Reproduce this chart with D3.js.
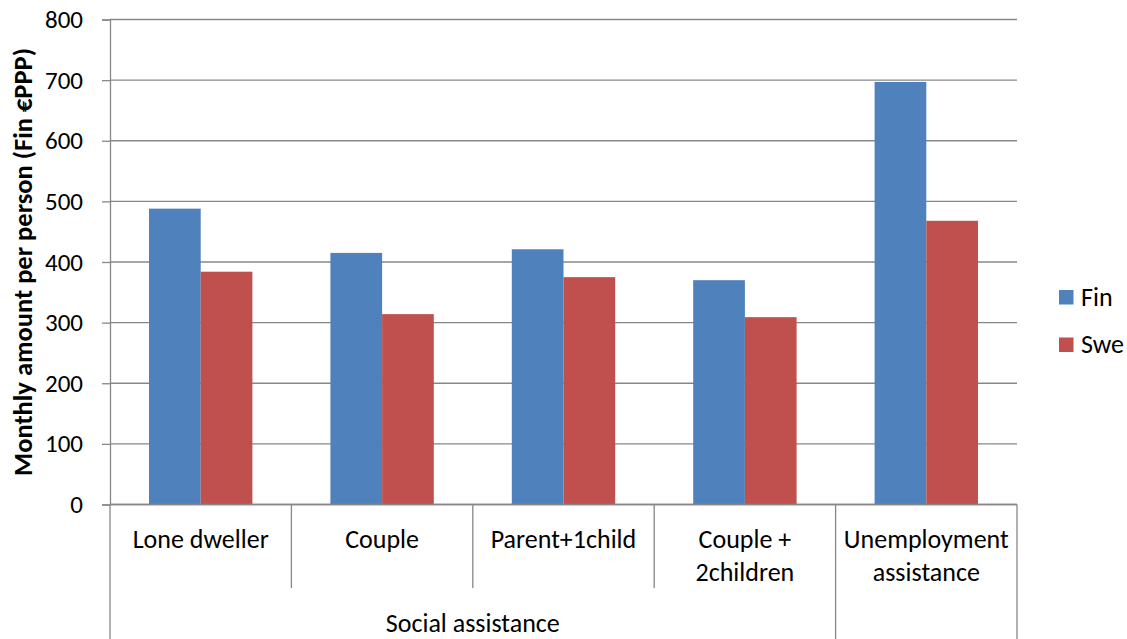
<!DOCTYPE html>
<html>
<head>
<meta charset="utf-8">
<script src="https://cdn.jsdelivr.net/npm/d3@7"></script>
<style>
  html, body { margin: 0; padding: 0; background: #fff; }
  svg { display: block; font-family: Carlito, Calibri, "Open Sans", "Noto Sans", sans-serif; }
</style>
</head>
<body>
<svg id="chart" width="1127" height="639"></svg>
<script>
const categories = ["Lone dweller", "Couple", "Parent+1child", "Couple +\n2children", "Unemployment\nassistance"];
const groupLabels = ["Social assistance", null];
const groupSpans = [4, 1];
const seriesNames = ["Fin", "Swe"];
const finValues = [488, 415, 421, 370, 697];
const sweValues = [384, 314, 375, 309, 468];
const yTicks = [0, 100, 200, 300, 400, 500, 600, 700, 800];
const colors = ["#4F81BD", "#C0504D"];
const yTitle = "Monthly amount per person (Fin €PPP)";

(function () {
const svg = d3.select("#chart");
const pLeft = 110, pRight = 1017, pTop = 19.5, pBottom = 504.5;
const gridColor = "#878787";
const fs = 26;

const y = d3.scaleLinear().domain([0, 800]).range([pBottom, pTop]);
const x0 = d3.scaleBand().domain(d3.range(categories.length)).range([pLeft, pRight]).padding(0);
const bw = x0.bandwidth();
const x1 = d3.scaleBand().domain(seriesNames).range([bw * 0.215, bw * 0.785]).padding(0);
const color = d3.scaleOrdinal().domain(seriesNames).range(colors);

// gridlines
svg.append("g").selectAll("line").data(yTicks).join("line")
  .attr("x1", pLeft).attr("x2", pRight)
  .attr("y1", d => y(d)).attr("y2", d => y(d))
  .attr("stroke", gridColor).attr("stroke-width", 1.3);

// bars
const data = categories.map((c, i) => ({ i, values: [finValues[i], sweValues[i]] }));
const gBars = svg.append("g");
data.forEach(d => {
  seriesNames.forEach((s, k) => {
    gBars.append("rect")
      .attr("x", x0(d.i) + x1(s))
      .attr("y", y(d.values[k]))
      .attr("width", x1.bandwidth())
      .attr("height", y(0) - y(d.values[k]))
      .attr("fill", color(s));
  });
});

// y axis
const yAxis = d3.axisLeft(y).tickValues(yTicks).tickSize(8).tickPadding(19).tickFormat(d3.format("d"));
const gy = svg.append("g").attr("transform", `translate(${pLeft},0)`).call(yAxis);
gy.select(".domain").attr("stroke", gridColor).attr("stroke-width", 1.3);
gy.selectAll(".tick line").attr("stroke", gridColor).attr("stroke-width", 1.3);
gy.selectAll(".tick text").attr("font-size", 25).attr("fill", "#000")
  .attr("font-family", "Carlito, Calibri, 'Open Sans', sans-serif");

// y title
svg.append("text")
  .attr("transform", `translate(31.5,${(pTop + pBottom) / 2}) rotate(-90)`)
  .attr("text-anchor", "middle")
  .attr("font-size", 26.5).attr("font-weight", "bold").attr("fill", "#000")
  .text(yTitle);

// x axis baseline
svg.append("line").attr("x1", pLeft).attr("x2", pRight).attr("y1", y(0)).attr("y2", y(0))
  .attr("stroke", gridColor).attr("stroke-width", 1.3);

// category labels
const catG = svg.append("g");
categories.forEach((c, i) => {
  const lines = c.split("\n");
  const t = catG.append("text")
    .attr("text-anchor", "middle").attr("font-size", fs).attr("fill", "#000");
  lines.forEach((ln, j) => {
    t.append("tspan").attr("x", x0(i) + bw / 2).attr("y", 547.5 + j * 33).text(ln);
  });
});

// separators
const levelEnd = 588, fullEnd = 639;
let idx = 0;
const bounds = [];
groupSpans.forEach((span, g) => {
  bounds.push({ start: idx, end: idx + span, label: groupLabels[g] });
  idx += span;
});
const sepG = svg.append("g").attr("stroke", gridColor).attr("stroke-width", 1.3);
bounds.forEach(b => {
  for (let k = b.start + 1; k < b.end; k++) {
    sepG.append("line").attr("x1", x0(k)).attr("x2", x0(k)).attr("y1", y(0)).attr("y2", levelEnd);
  }
  sepG.append("line").attr("x1", x0(b.start)).attr("x2", x0(b.start)).attr("y1", y(0)).attr("y2", fullEnd);
});
sepG.append("line").attr("x1", pRight).attr("x2", pRight).attr("y1", y(0)).attr("y2", fullEnd);

// group labels
bounds.forEach(b => {
  if (!b.label) return;
  const cx = (x0(b.start) + (b.end < categories.length ? x0(b.end) : pRight)) / 2;
  svg.append("text").attr("x", cx).attr("y", 631.5)
    .attr("text-anchor", "middle").attr("font-size", fs).attr("fill", "#000")
    .text(b.label);
});

// legend
const leg = svg.append("g");
seriesNames.forEach((s, k) => {
  const base = 305.5 + k * 47.5;
  leg.append("rect").attr("x", 1059).attr("y", base - 15.5).attr("width", 14.5).attr("height", 14.5).attr("fill", color(s));
  leg.append("text").attr("x", 1081).attr("y", base).attr("font-size", fs).attr("fill", "#000").text(s);
});
})();
</script>
</body>
</html>
